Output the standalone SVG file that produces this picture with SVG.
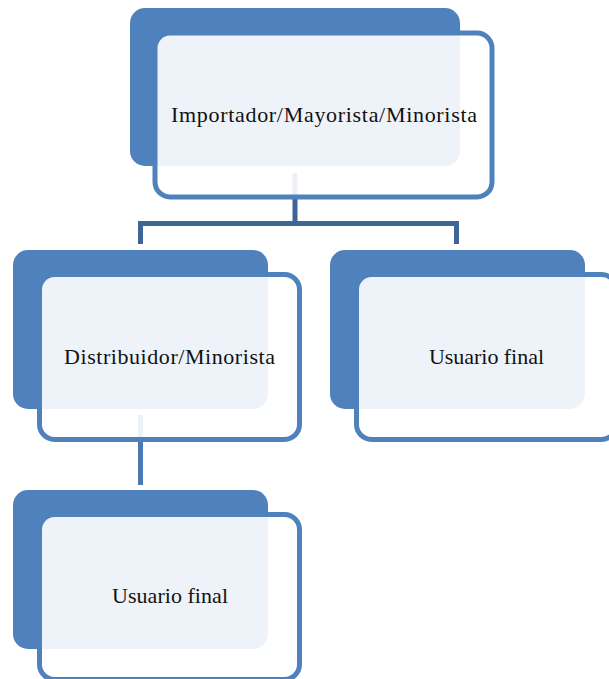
<svg xmlns="http://www.w3.org/2000/svg" width="609" height="679" viewBox="0 0 609 679">
<style>
.back{fill:#4F81BD;}
.front{fill:#FFFFFF;fill-opacity:0.9;stroke:#4F81BD;stroke-width:5;}
.lbl{font-family:"Liberation Serif","Times New Roman",serif;font-size:22px;fill:#111111;}
.c1{fill:none;stroke:#3F6598;stroke-width:5;stroke-linejoin:miter;}
.c2{fill:none;stroke:#4A79B4;stroke-width:5;}
</style>
<rect width="609" height="679" fill="#FFFFFF"/>
<g id="connectors">
<path class="c1" d="M295,173 V223.5"/>
<path class="c1" d="M140.5,244 V223.5 H456.5 V244"/>
<path class="c2" d="M140.5,415 V485"/>
</g>
<g id="node-importador">
<rect class="back" x="130" y="8" width="330" height="158" rx="15"/>
<rect class="front" x="155" y="33" width="337" height="164" rx="15"/>
<text class="lbl" x="171" y="122" textLength="306" lengthAdjust="spacing">Importador/Mayorista/Minorista</text>
</g>
<g id="node-distribuidor">
<rect class="back" x="13" y="250" width="255" height="159" rx="15"/>
<rect class="front" x="39.5" y="274.5" width="260" height="165" rx="15"/>
<text class="lbl" x="64" y="364" textLength="211" lengthAdjust="spacing">Distribuidor/Minorista</text>
</g>
<g id="node-usuario-1">
<rect class="back" x="330" y="250" width="255" height="159" rx="15"/>
<rect class="front" x="356.5" y="274.5" width="260" height="165" rx="15"/>
<text class="lbl" x="429" y="364" textLength="115" lengthAdjust="spacing">Usuario final</text>
</g>
<g id="node-usuario-2">
<rect class="back" x="13" y="490" width="255" height="159" rx="15"/>
<rect class="front" x="39.5" y="514.5" width="260" height="165" rx="15"/>
<text class="lbl" x="112" y="603" textLength="116" lengthAdjust="spacing">Usuario final</text>
</g>
</svg>
